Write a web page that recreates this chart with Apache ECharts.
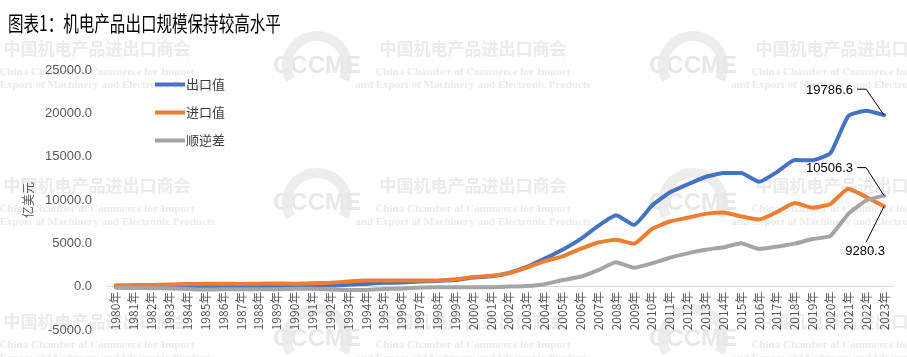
<!DOCTYPE html>
<html><head><meta charset="utf-8">
<script src="https://cdn.jsdelivr.net/npm/echarts@6/dist/echarts.min.js"></script>
<style>html,body{margin:0;padding:0;background:#fff}#c{width:907px;height:357px}</style>
</head><body><div id="c"></div>
<script>
const categories = ["1980年","1981年","1982年","1983年","1984年","1985年","1986年","1987年","1988年","1989年","1990年","1991年","1992年","1993年","1994年","1995年","1996年","1997年","1998年","1999年","2000年","2001年","2002年","2003年","2004年","2005年","2006年","2007年","2008年","2009年","2010年","2011年","2012年","2013年","2014年","2015年","2016年","2017年","2018年","2019年","2020年","2021年","2022年","2023年"];
const exportValues = [20,20,25,30,35,17,21,31,46,64,111,140,132,227,320,439,482,593,665,770,1053,1188,1571,2275,3234,4268,5494,7012,8229,7131,9334,10856,11794,12655,13109,13107,12092,13215,14603,14593,15411,19700,20300,19786.6];
const importValues = [150,180,200,250,300,350,330,320,350,370,350,380,450,600,700,700,720,700,720,850,1130,1250,1560,2200,2950,3500,4350,5100,5410,4950,6650,7520,7950,8400,8560,8100,7750,8600,9640,9100,9550,11300,10350,9280.3];
const balanceValues = [-130,-160,-175,-220,-265,-333,-309,-289,-304,-306,-239,-240,-318,-373,-380,-261,-238,-107,-55,-80,-77,-62,11,75,284,768,1144,1912,2819,2181,2684,3336,3844,4255,4549,5007,4342,4615,4963,5493,5861,8400,9950,10506.3];
const seriesNames = ["出口值","进口值","顺逆差"];
const yTicks = {min:-5000, max:25000, interval:5000};
const titleText = "图表1：机电产品出口规模保持较高水平";

const colors = ["#4472C4","#ED7D31","#A5A5A5"];
const chart = echarts.init(document.getElementById('c'), null, {renderer:'canvas'});

// watermark decoration
const wm = [];
const rowsY = [49,186,322];
const colsX = [97,473,849];
const logoX = [317,693];
const wmColor = '#ebebeb';
rowsY.forEach((ry,ri)=>{
  colsX.forEach((cx,ci)=>{
    wm.push({type:'text', id:'wc'+ri+ci, silent:true, z:0, x:cx, y:ry, style:{text:'中国机电产品进出口商会', fill:wmColor, font:'bold 17px "Noto Sans CJK SC"', align:'center', verticalAlign:'middle'}});
    wm.push({type:'text', id:'we1'+ri+ci, silent:true, z:0, x:cx, y:ry+23, style:{text:'China Chamber of Commerce for Import', fill:wmColor, font:'bold 11px "Liberation Serif"', align:'center', verticalAlign:'middle'}});
    wm.push({type:'text', id:'we2'+ri+ci, silent:true, z:0, x:cx, y:ry+36, style:{text:'and Export of Machinery and Electronic Products', fill:wmColor, font:'bold 11px "Liberation Serif"', align:'center', verticalAlign:'middle'}});
  });
  logoX.forEach((lx,li)=>{
    wm.push({type:'arc', id:'wa'+ri+li, silent:true, z:0, shape:{cx:lx, cy:ry+17, r:30, startAngle:Math.PI*0.15, endAngle:Math.PI*0.85, clockwise:false}, style:{stroke:'#ededed', lineWidth:10, fill:null}});
    wm.push({type:'text', id:'wl'+ri+li, silent:true, z:0, x:lx, y:ry+17, style:{text:'CCCME', fill:'#e8e8e8', font:'bold 24px "Liberation Sans"', align:'center', verticalAlign:'middle'}});
  });
});

const titleEl = {type:'text', id:'title', z:10, x:8, y:23, scaleX:0.74, style:{text:titleText, fill:'#000', font:'21px "Noto Sans CJK SC"', align:'left', verticalAlign:'middle'}};

const option = {
  animation:false,
  color: colors,
  grid:{left:107, right:14, top:70, bottom:27, containLabel:false, outerBoundsMode:'auto', outerBounds:{left:-100, top:-100, right:-100, bottom:-100}},
  legend:{
    orient:'vertical', left:150, top:73, itemGap:15, itemWidth:30, itemHeight:14,
    textStyle:{fontSize:13, color:'#404040', fontFamily:'"Noto Sans CJK SC"', padding:[0,0,0,-4]},
    data: seriesNames.map(n=>({name:n, icon:'path://M0,0 L30,0 L30,4 L0,4 Z'}))
  },
  xAxis:{
    type:'category', data:categories, boundaryGap:true, position:'bottom',
    axisLine:{onZero:false, lineStyle:{color:'#d9d9d9', width:1}},
    axisTick:{show:false},
    axisLabel:{rotate:90, interval:0, fontSize:12, color:'#595959', margin:5, fontFamily:'"Noto Sans CJK SC"'}
  },
  yAxis:{
    type:'value', min:yTicks.min, max:yTicks.max, interval:yTicks.interval,
    name:'亿美元', nameLocation:'middle', nameGap:72, nameRotate:90,
    nameTextStyle:{fontSize:12, color:'#595959', fontFamily:'"Noto Sans CJK SC"'},
    splitLine:{show:false}, axisLine:{show:false}, axisTick:{show:false},
    axisLabel:{fontSize:13, color:'#595959', margin:15, formatter:v=>v.toFixed(1), fontFamily:'"Liberation Sans"'}
  },
  series:[exportValues, importValues, balanceValues].map((d,i)=>({
    name:seriesNames[i], type:'line', data:d, smooth:0.15, symbol:'none', z:2+i,
    lineStyle:{width:4, color:colors[i], cap:'round', join:'round'}
  })),
  graphic:{elements:[...wm, titleEl]}
};
chart.setOption(option);

// move the category axis (line + labels) up to the value 0
const zeroPx = chart.convertToPixel({yAxisIndex:0}, 0);
const minPx = chart.convertToPixel({yAxisIndex:0}, yTicks.min);
chart.setOption({xAxis:{offset: zeroPx - minPx}});

// annotations anchored to last points
const last = categories.length - 1;
const pB = chart.convertToPixel({seriesIndex:0}, [last, exportValues[last]]);
const pO = chart.convertToPixel({seriesIndex:1}, [last, importValues[last]]);
const pG = chart.convertToPixel({seriesIndex:2}, [last, balanceValues[last]]);
const ann = [];
const font = '13px "Liberation Sans"';
ann.push({type:'text', id:'tb', z:20, x:pB[0]-31, y:pB[1]-25, style:{text:String(exportValues[last]), fill:'#000', font, align:'right', verticalAlign:'middle'}});
ann.push({type:'polyline', id:'lb', z:20, shape:{points:[[pB[0]-27,pB[1]-26],[pB[0]-18,pB[1]-26],[pB[0],pB[1]]]}, style:{stroke:'#000', lineWidth:1, fill:null}});
ann.push({type:'text', id:'tg', z:20, x:pG[0]-31, y:pG[1]-27, style:{text:String(balanceValues[last]), fill:'#000', font, align:'right', verticalAlign:'middle'}});
ann.push({type:'polyline', id:'lg', z:20, shape:{points:[[pG[0]-27,pG[1]-28],[pG[0]-18,pG[1]-28],[pG[0],pG[1]]]}, style:{stroke:'#000', lineWidth:1, fill:null}});
ann.push({type:'text', id:'to', z:20, x:pO[0]-19, y:pO[1]+45, style:{text:String(importValues[last]), fill:'#000', font, align:'center', verticalAlign:'middle'}});
ann.push({type:'polyline', id:'lo', z:20, shape:{points:[[pO[0]-18,pO[1]+36],[pO[0],pO[1]]]}, style:{stroke:'#000', lineWidth:1, fill:null}});
chart.setOption({graphic:{elements:[...wm, titleEl, ...ann]}});
</script></body></html>
